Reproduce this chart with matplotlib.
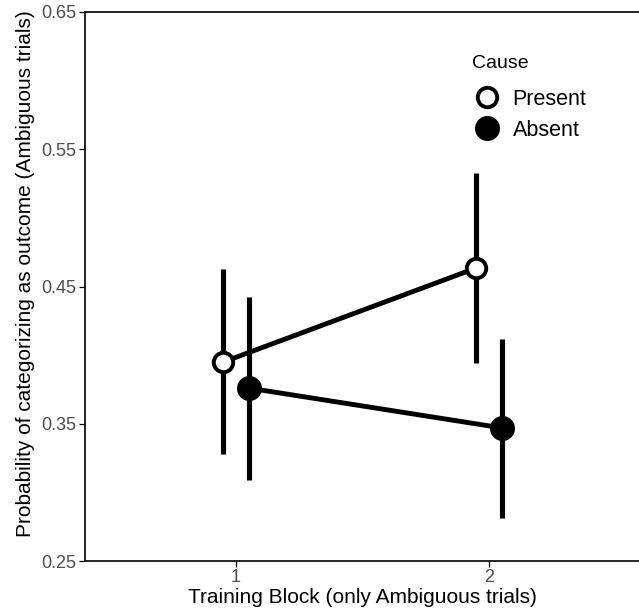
import matplotlib
matplotlib.use("Agg")
import matplotlib.pyplot as plt

plt.rcParams['font.family'] = ['Liberation Sans', 'DejaVu Sans']

# data
blocks = [1, 2]
block_labels = ['1', '2']
present_mean = [0.395, 0.4635]
present_lo = [0.328, 0.394]
present_hi = [0.463, 0.533]
absent_mean = [0.376, 0.347]
absent_lo = [0.309, 0.281]
absent_hi = [0.442, 0.412]

dodge = 0.05

fig = plt.figure(figsize=(6.39, 6.13), dpi=100)
ax = fig.add_axes([85 / 639, 1 - 561 / 613, 1 - 85 / 639, (561 - 12) / 613])

xp = [b - dodge for b in blocks]
xa = [b + dodge for b in blocks]

# error bars
ax.vlines(xp, present_lo, present_hi, color='black', lw=3.7, zorder=2)
ax.vlines(xa, absent_lo, absent_hi, color='black', lw=3.7, zorder=2)

# lines + points
ax.plot(xp, present_mean, color='black', lw=3.5, zorder=3)
ax.plot(xa, absent_mean, color='black', lw=3.5, zorder=3)
hp, = ax.plot(xp, present_mean, ls='none', marker='o', ms=14, mfc='white',
              mec='black', mew=2.8, zorder=4, label='Present')
ha, = ax.plot(xa, absent_mean, ls='none', marker='o', ms=18, mfc='black',
              mec='black', mew=0, zorder=4, label='Absent')

ax.set_xlim(0.403, 2.593)
ax.set_ylim(0.25, 0.65)
ax.set_xticks(blocks)
ax.set_xticklabels(block_labels)
ax.set_yticks([0.25, 0.35, 0.45, 0.55, 0.65])
ax.set_yticklabels(['0.25', '0.35', '0.45', '0.55', '0.65'])
ax.tick_params(labelcolor='#4d4d4d', labelsize=13, length=4, width=0.9,
               color='black', pad=2)

for s in ['left', 'bottom', 'top']:
    ax.spines[s].set_linewidth(1.2)
ax.spines['right'].set_visible(False)

ax.set_xlabel('Training Block (only Ambiguous trials)', fontsize=15, labelpad=1)
ax.set_ylabel('Probability of categorizing as outcome (Ambiguous trials)', fontsize=15)
ax.yaxis.set_label_coords(-0.09, 0.523)

leg = ax.legend(handles=[hp, ha], title='Cause', loc='upper left',
                bbox_to_anchor=(455 / 639, 1 - 38 / 613), bbox_transform=fig.transFigure,
                frameon=False, fontsize=15.5, title_fontsize=14,
                handletextpad=0.47, labelspacing=0.45, handlelength=1.4,
                borderpad=0.3)
leg._legend_box.align = 'left'
leg._legend_box.sep = 12

fig.savefig('out.png', dpi=100)
